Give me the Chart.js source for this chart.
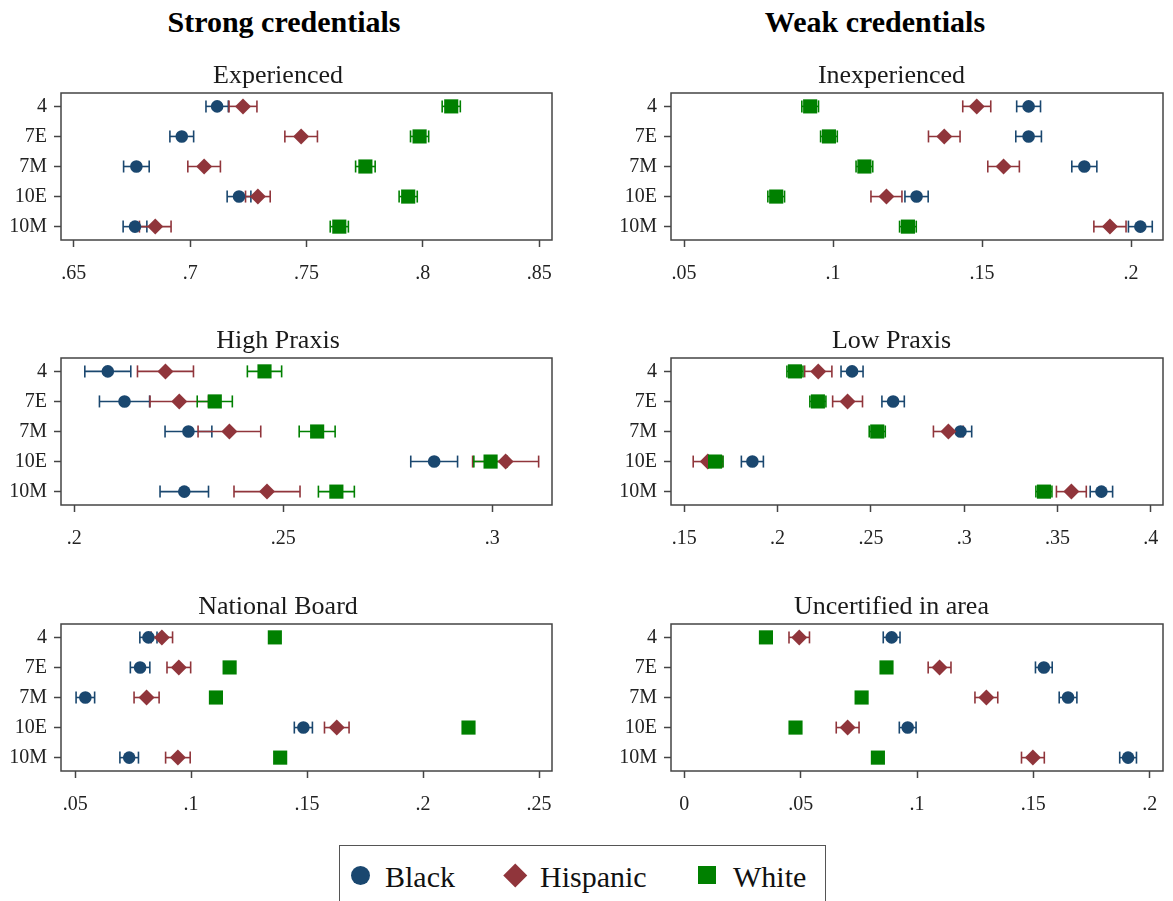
<!DOCTYPE html>
<html>
<head>
<meta charset="utf-8">
<script src="https://cdn.jsdelivr.net/npm/chart.js@4.4.1/dist/chart.umd.min.js"></script>
<style>
  body { margin: 0; background: #fff; width: 1173px; height: 901px; overflow: hidden; position: relative; font-family: "Liberation Serif", "Times New Roman", serif; }
  canvas { position: absolute; }
  .col-title { position: absolute; top: 7px; font-weight: bold; font-size: 30px; line-height: 30px; text-align: center; color: #000; }
  #legend { position: absolute; left: 339px; top: 845px; width: 487px; height: 80px; border: 1.5px solid #555; box-sizing: border-box; }
  .key { position: absolute; }
  .lbl { position: absolute; top: 862px; font-size: 30px; line-height: 30px; color: #111; }
</style>
</head>
<body>
<div class="col-title" style="left:0;width:568px">Strong credentials</div>
<div class="col-title" style="left:590px;width:570px">Weak credentials</div>

<canvas id="c1" width="567" height="235" style="left:-5px;top:50px"></canvas>
<canvas id="c2" width="562" height="235" style="left:611px;top:50px"></canvas>
<canvas id="c3" width="567" height="235" style="left:-5px;top:315px"></canvas>
<canvas id="c4" width="562" height="235" style="left:611px;top:315px"></canvas>
<canvas id="c5" width="567" height="235" style="left:-5px;top:581px"></canvas>
<canvas id="c6" width="562" height="235" style="left:611px;top:581px"></canvas>

<div id="legend"></div>
<div class="key" id="kBlack" style="left:350.5px;top:865.5px;width:19px;height:19px;border-radius:50%"></div>
<div class="lbl" style="left:385px">Black</div>
<div class="key" id="kHisp" style="left:506.75px;top:866.75px;width:16.5px;height:16.5px;transform:rotate(45deg)"></div>
<div class="lbl" style="left:540px">Hispanic</div>
<div class="key" id="kWhite" style="left:698px;top:866px;width:18px;height:18px"></div>
<div class="lbl" style="left:733px">White</div>

<script>
// grade / subject categories on the y axis
const grades = ['4', '7E', '7M', '10E', '10M'];

// Experienced
const expBlack = [.7116, .6964, .6769, .7210, .6763];
const expBlackCi = [.0048, .0051, .0055, .0051, .0051];
const expHisp = [.7227, .7477, .7060, .7291, .6850];
const expHispCi = [.0060, .0070, .0070, .0053, .0068];
const expWhite = [.8122, .7986, .7753, .7937, .7641];
const expWhiteCi = [.0039, .0039, .0042, .0039, .0039];
const expTicks = [.65, .7, .75, .8, .85];

// Inexperienced
const inexBlack = [.1656, .1656, .1843, .1280, .2031];
const inexBlackCi = [.0040, .0043, .0042, .0039, .0040];
const inexHisp = [.1482, .1373, .1572, .1179, .1929];
const inexHispCi = [.0047, .0053, .0053, .0052, .0054];
const inexWhite = [.0923, .0986, .1105, .0809, .1251];
const inexWhiteCi = [.0028, .0028, .0028, .0028, .0028];
const inexTicks = [.05, .1, .15, .2];

// High Praxis
const hiBlack = [.2080, .2120, .2273, .2861, .2263];
const hiBlackCi = [.0055, .0060, .0056, .0056, .0058];
const hiHisp = [.2218, .2251, .2371, .3032, .2461];
const hiHispCi = [.0067, .0070, .0075, .0079, .0079];
const hiWhite = [.2455, .2336, .2581, .2996, .2627];
const hiWhiteCi = [.0041, .0042, .0043, .0040, .0043];
const hiTicks = [.2, .25, .3];

// Low Praxis
const loBlack = [.2399, .2619, .2980, .1865, .3735];
const loBlackCi = [.0059, .0060, .0060, .0059, .0060];
const loHisp = [.2218, .2375, .2915, .1626, .3574];
const loHispCi = [.0073, .0080, .0080, .0078, .0080];
const loWhite = [.2093, .2216, .2534, .1665, .3427];
const loWhiteCi = [.0043, .0043, .0043, .0043, .0043];
const loTicks = [.15, .2, .25, .3, .35, .4];

// National Board
const nbBlack = [.0816, .0780, .0544, .1484, .0733];
const nbBlackCi = [.0037, .0042, .0040, .0039, .0040];
const nbHisp = [.0874, .0947, .0808, .1628, .0943];
const nbHispCi = [.0046, .0051, .0054, .0053, .0053];
const nbWhite = [.1361, .1166, .1107, .2196, .1384];
const nbWhiteCi = [.0015, .0015, .0015, .0015, .0015];
const nbTicks = [.05, .1, .15, .2, .25];

// Uncertified in area
const ucBlack = [.0891, .1545, .1649, .0960, .1907];
const ucBlackCi = [.0036, .0036, .0038, .0036, .0036];
const ucHisp = [.0494, .1097, .1298, .0702, .1498];
const ucHispCi = [.0044, .0049, .0049, .0049, .0049];
const ucWhite = [.0351, .0869, .0762, .0478, .0832];
const ucWhiteCi = [.0012, .0012, .0012, .0012, .0012];
const ucTicks = [0, .05, .1, .15, .2];

const navy = '#1a476f';
const maroon = '#90353b';
const green = '#008000';
const axisColor = '#444';
const FONT = '"Liberation Serif", "Times New Roman", serif';

document.getElementById('kBlack').style.background = navy;
document.getElementById('kHisp').style.background = maroon;
document.getElementById('kWhite').style.background = green;

function fmt(v) {
    return v === 0 ? '0' : String(v).replace(/^0\./, '.');
}

// box around the plot region (Stata style)
const framePlugin = {
    id: 'frame',
    beforeDatasetsDraw(chart) {
        const { ctx, chartArea: a } = chart;
        ctx.save();
        ctx.strokeStyle = axisColor;
        ctx.lineWidth = 1.5;
        ctx.strokeRect(a.left, a.top, a.right - a.left, a.bottom - a.top);
        ctx.restore();
    }
};

function ciSets(means, half, color, order) {
    return means.map((m, i) => ({
        type: 'line',
        data: [{ x: m - half[i], y: i + 1 }, { x: m + half[i], y: i + 1 }],
        borderColor: color,
        borderWidth: 1.6,
        pointStyle: 'line',
        rotation: 90,
        pointRadius: 6,
        pointBorderColor: color,
        pointBorderWidth: 1.6,
        fill: false,
        order: order
    }));
}

function markSet(means, color, style, radius, order) {
    return {
        data: means.map((m, i) => ({ x: m, y: i + 1 })),
        pointStyle: style,
        pointRadius: radius,
        backgroundColor: color,
        borderColor: color,
        borderWidth: 0,
        pointBorderWidth: 0,
        order: order
    };
}

function makePanel(id, title, ticks, xMin, xMax, yWidth, black, blackCi, hisp, hispCi, white, whiteCi) {
    const datasets = [
        markSet(white, green, 'rect', 10, 0),
        markSet(hisp, maroon, 'rectRot', 8, 1),
        markSet(black, navy, 'circle', 6.3, 2),
        ...ciSets(white, whiteCi, green, 3),
        ...ciSets(hisp, hispCi, maroon, 4),
        ...ciSets(black, blackCi, navy, 5)
    ];

    new Chart(document.getElementById(id), {
        type: 'scatter',
        data: { datasets },
        plugins: [framePlugin],
        options: {
            responsive: false,
            animation: false,
            events: [],
            layout: { padding: { left: 0, right: 1, top: 0, bottom: 0 } },
            plugins: {
                legend: { display: false },
                tooltip: { enabled: false },
                title: {
                    display: true,
                    text: title,
                    color: '#1a1a1a',
                    font: { family: FONT, size: 26, weight: 'normal', lineHeight: 1.2 },
                    padding: { top: 10.4, bottom: 1.4 }
                }
            },
            scales: {
                x: {
                    type: 'linear',
                    min: xMin,
                    max: xMax,
                    bounds: 'data',
                    afterBuildTicks: s => { s.ticks = ticks.map(v => ({ value: v })); },
                    afterFit: s => { s.height = 45; s.paddingLeft = 0; s.paddingRight = 0; },
                    ticks: {
                        callback: v => fmt(v),
                        color: '#222',
                        font: { family: FONT, size: 20 },
                        padding: 15,
                        maxRotation: 0,
                        autoSkip: false
                    },
                    grid: { drawOnChartArea: false, tickLength: 7, color: axisColor, tickWidth: 1.5 },
                    border: { display: false }
                },
                y: {
                    type: 'linear',
                    min: 0.555,
                    max: 5.445,
                    reverse: true,
                    bounds: 'data',
                    afterBuildTicks: s => { s.ticks = grades.map((g, i) => ({ value: i + 1 })); },
                    afterFit: s => { s.width = yWidth; s.paddingTop = 0; s.paddingBottom = 0; },
                    ticks: {
                        callback: v => grades[v - 1],
                        color: '#222',
                        font: { family: FONT, size: 20 },
                        padding: 7,
                        autoSkip: false
                    },
                    grid: { drawOnChartArea: false, tickLength: 7, color: axisColor, tickWidth: 1.5 },
                    border: { display: false }
                }
            }
        }
    });
}

makePanel('c1', 'Experienced', expTicks, .6445, .8555, 66, expBlack, expBlackCi, expHisp, expHispCi, expWhite, expWhiteCi);
makePanel('c2', 'Inexperienced', inexTicks, .0456, .2107, 60, inexBlack, inexBlackCi, inexHisp, inexHispCi, inexWhite, inexWhiteCi);
makePanel('c3', 'High Praxis', hiTicks, .1968, .3143, 66, hiBlack, hiBlackCi, hiHisp, hiHispCi, hiWhite, hiWhiteCi);
makePanel('c4', 'Low Praxis', loTicks, .1429, .4065, 60, loBlack, loBlackCi, loHisp, loHispCi, loWhite, loWhiteCi);
makePanel('c5', 'National Board', nbTicks, .0439, .2556, 66, nbBlack, nbBlackCi, nbHisp, nbHispCi, nbWhite, nbWhiteCi);
makePanel('c6', 'Uncertified in area', ucTicks, -.0057, .2057, 60, ucBlack, ucBlackCi, ucHisp, ucHispCi, ucWhite, ucWhiteCi);
</script>
</body>
</html>
